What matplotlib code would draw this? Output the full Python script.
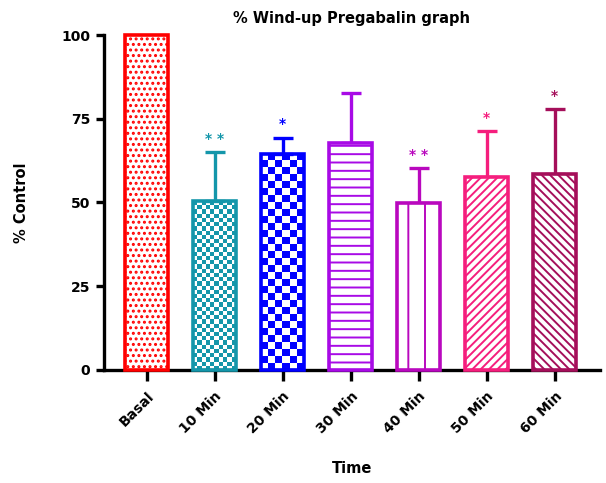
import numpy as np
import matplotlib.pyplot as plt
from matplotlib.colors import ListedColormap

plt.rcParams['font.family'] = ['DejaVu Sans']
plt.rcParams['hatch.linewidth'] = 1.4

# Datos
grupos = ["Basal", "10 Min", "20 Min", "30 Min", "40 Min", "50 Min", "60 Min"]
medias = [100, 50.4, 64.5, 67.8, 49.9, 57.6, 58.5]
errores = [0, 14.7, 4.8, 14.9, 10.4, 13.7, 19.4]
signif = ["", "* *", "*", "", "* *", "*", "*"]
colores = ["#FF0000", "#1496AA", "#0000FF", "#A80AE6", "#B908BE", "#F51E7D", "#A50F5A"]
tramas = ["...", "checker_fino", "checker", "--", "|", "////", "\\\\\\\\"]

fig = plt.figure(figsize=(6.06, 4.83), dpi=100)
ax = fig.add_axes([0.1716, 0.234, 0.818, 0.6935])

x = np.arange(len(grupos))
ancho = 0.63

for i in range(len(grupos)):
    trama = tramas[i]
    es_tablero = trama.startswith("checker")
    barra = ax.bar(x[i], medias[i], width=ancho, facecolor="none" if es_tablero else "white",
                   edgecolor=colores[i], linewidth=2.6, hatch=None if es_tablero else trama,
                   zorder=3, clip_on=False)[0]
    if es_tablero:
        celda_x, celda_y = (0.06, 1.25) if trama == "checker_fino" else (0.105, 2.1)
        nc = int(round(ancho / celda_x))
        nf = int(round(medias[i] / celda_y))
        tablero = (np.add.outer(np.arange(nf), np.arange(nc)) % 2).astype(float)
        img = ax.imshow(tablero, cmap=ListedColormap(["white", colores[i]]), aspect="auto",
                        interpolation="nearest", origin="lower",
                        extent=(x[i] - ancho / 2, x[i] + ancho / 2, 0, medias[i]), zorder=2)
        img.set_clip_path(barra)
    if errores[i] > 0:
        ax.errorbar(x[i], medias[i], yerr=[[0], [errores[i]]], fmt="none", ecolor=colores[i],
                    elinewidth=2.4, capsize=7, capthick=2.4, zorder=2)
    if signif[i]:
        ax.text(x[i], medias[i] + errores[i] + 4, signif[i], color=colores[i], ha="center",
                va="center", fontsize=10, fontweight="bold")

ax.set_xlim(-0.63, 6.66)
ax.set_ylim(0, 100)
ax.set_yticks([0, 25, 50, 75, 100])
ax.set_xticks(x)
ax.set_xticklabels(grupos, rotation=45, ha="right", rotation_mode="anchor",
                   fontsize=10, fontweight="bold")
for lab in ax.get_yticklabels():
    lab.set_fontweight("bold")
    lab.set_fontsize(10)

ax.spines["top"].set_visible(False)
ax.spines["right"].set_visible(False)
ax.spines["left"].set_linewidth(2.4)
ax.spines["bottom"].set_linewidth(2.4)
ax.tick_params(axis="y", width=2.4, length=6, pad=4)
ax.tick_params(axis="x", width=2.4, length=8, pad=6)

ax.set_title("% Wind-up Pregabalin graph", fontsize=10.5, fontweight="bold", pad=9)
ax.set_ylabel("% Control", fontsize=10.5, fontweight="bold", labelpad=23)
ax.set_xlabel("Time", fontsize=10.5, fontweight="bold", labelpad=18)

fig.savefig("out.png", dpi=100)
